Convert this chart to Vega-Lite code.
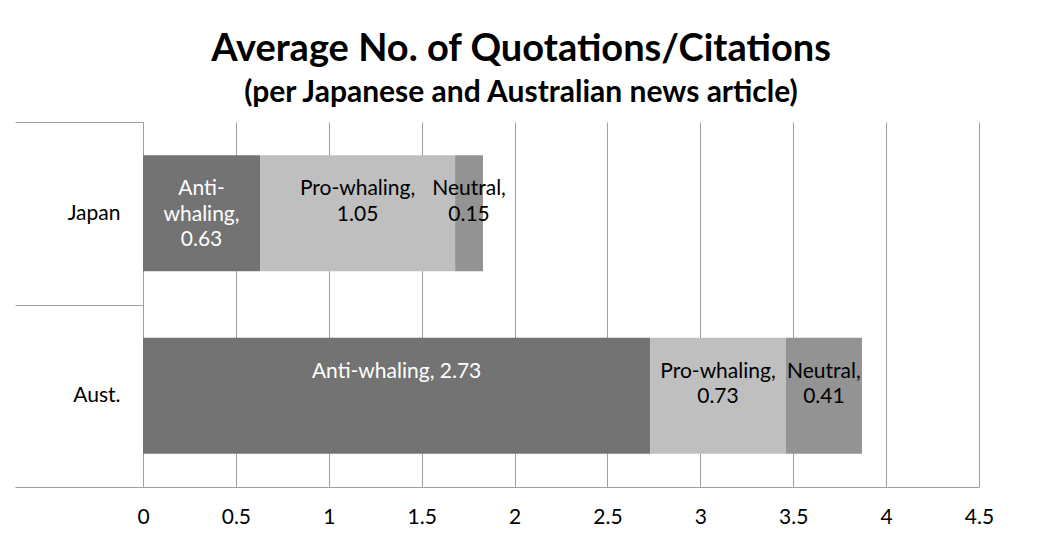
{
  "$schema": "https://vega.github.io/schema/vega-lite/v6.json",
  "width": 836,
  "height": 365,
  "autosize": "none",
  "padding": {"left": 143, "top": 122, "right": 62, "bottom": 58},
  "background": "white",
  "title": {
    "text": "Average No. of Quotations/Citations",
    "subtitle": "(per Japanese and Australian news article)",
    "anchor": "middle",
    "frame": "group",
    "dx": -40,
    "offset": 3,
    "font": "Lato",
    "fontSize": 38,
    "fontWeight": "bold",
    "color": "black",
    "subtitleFont": "Lato",
    "subtitleFontSize": 30,
    "subtitleFontWeight": "bold",
    "subtitleColor": "black",
    "subtitlePadding": 9
  },
  "data": {
    "values": [
      {"country": "Japan", "stance": "Anti-whaling", "order": 1, "value": 0.63, "label": "Anti-\nwhaling,\n0.63"},
      {"country": "Japan", "stance": "Pro-whaling", "order": 2, "value": 1.05, "label": "Pro-whaling,\n1.05"},
      {"country": "Japan", "stance": "Neutral", "order": 3, "value": 0.15, "label": "Neutral,\n0.15"},
      {"country": "Aust.", "stance": "Anti-whaling", "order": 1, "value": 2.73, "label": "Anti-whaling, 2.73"},
      {"country": "Aust.", "stance": "Pro-whaling", "order": 2, "value": 0.73, "label": "Pro-whaling,\n0.73"},
      {"country": "Aust.", "stance": "Neutral", "order": 3, "value": 0.41, "label": "Neutral,\n0.41"}
    ]
  },
  "transform": [
    {"stack": "value", "groupby": ["country"], "sort": [{"field": "order"}], "as": ["x0", "x1"]},
    {"calculate": "(datum.x0 + datum.x1) / 2", "as": "mid"}
  ],
  "encoding": {
    "y": {
      "field": "country",
      "type": "nominal",
      "sort": ["Japan", "Aust."],
      "scale": {"paddingInner": 0, "paddingOuter": 0},
      "axis": {
        "title": null,
        "domain": true,
        "domainColor": "#a0a0a0",
        "ticks": true,
        "tickBand": "extent",
        "tickSize": 128,
        "tickColor": "#a0a0a0",
        "labelPadding": -105,
        "labelFont": "Lato",
        "labelFontSize": 21,
        "labelColor": "black"
      }
    }
  },
  "layer": [
    {
      "mark": {"type": "bar", "size": 116},
      "encoding": {
        "x": {
          "field": "x0",
          "type": "quantitative",
          "scale": {"domain": [0, 4.5], "nice": false},
          "axis": {
            "title": null,
            "values": [0, 0.5, 1, 1.5, 2, 2.5, 3, 3.5, 4, 4.5],
            "format": "~g",
            "grid": true,
            "gridColor": "#a0a0a0",
            "domainColor": "#a0a0a0",
            "ticks": false,
            "labelFlush": false,
            "labelPadding": 19,
            "labelFont": "Lato",
            "labelFontSize": 21,
            "labelColor": "black"
          }
        },
        "x2": {"field": "x1"},
        "color": {
          "field": "stance",
          "type": "nominal",
          "scale": {"domain": ["Anti-whaling", "Pro-whaling", "Neutral"], "range": ["#737373", "#bfbfbf", "#939393"]},
          "legend": null
        }
      }
    },
    {
      "mark": {"type": "text", "lineBreak": "\n", "lineHeight": 25.5, "font": "Lato", "fontSize": 21, "baseline": "middle", "align": "center", "dy": -24},
      "encoding": {
        "x": {"field": "mid", "type": "quantitative"},
        "text": {"field": "label"},
        "color": {
          "field": "stance",
          "type": "nominal",
          "scale": {"domain": ["Anti-whaling", "Pro-whaling", "Neutral"], "range": ["white", "black", "black"]},
          "legend": null
        }
      }
    }
  ],
  "resolve": {"scale": {"color": "independent"}},
  "config": {"view": {"stroke": null}}
}
